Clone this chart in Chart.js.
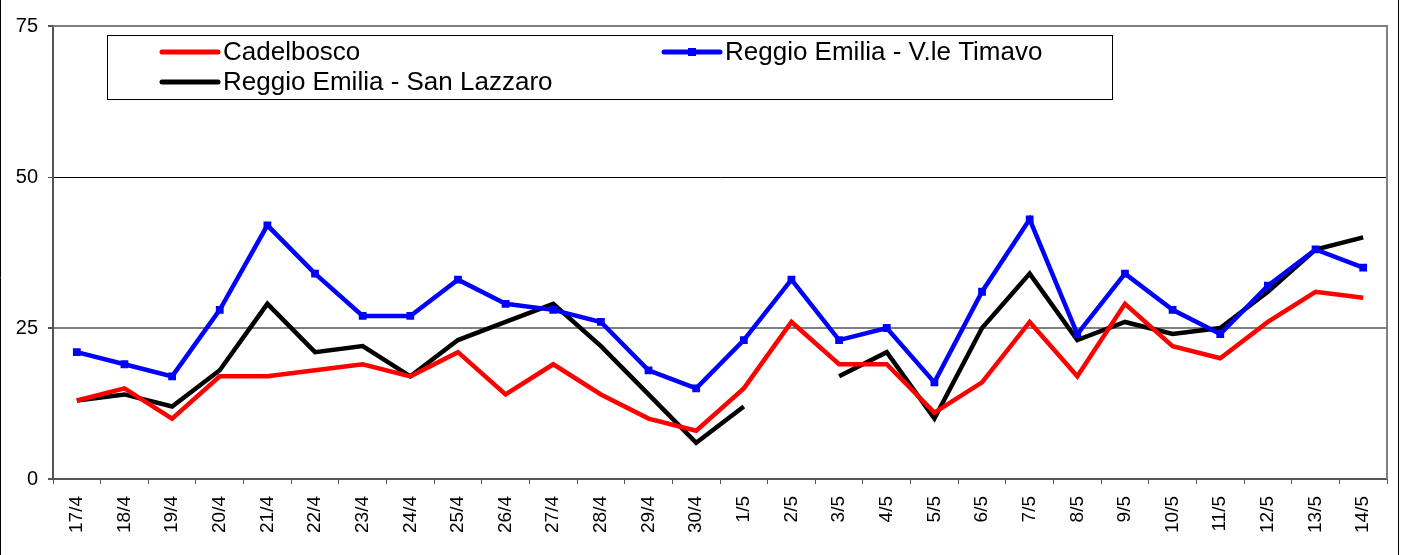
<!DOCTYPE html>
<html>
<head>
<meta charset="utf-8">
<script src="https://cdn.jsdelivr.net/npm/chart.js@4"></script>
<style>
    body { margin: 0; background: #fff; }
    #wrap { width: 1404px; height: 555px; position: relative; }
</style>
</head>
<body>
<div id="wrap"><canvas id="chart" width="1404" height="555"></canvas></div>
<script>
// dates along the x axis
const days = ["17/4", "18/4", "19/4", "20/4", "21/4", "22/4", "23/4", "24/4", "25/4", "26/4",
    "27/4", "28/4", "29/4", "30/4", "1/5", "2/5", "3/5", "4/5", "5/5", "6/5",
    "7/5", "8/5", "9/5", "10/5", "11/5", "12/5", "13/5", "14/5"];

const cadelbosco = [13, 15, 10, 17, 17, 18, 19, 17, 21, 14, 19, 14, 10, 8, 15, 26, 19, 19, 11, 16, 26, 17, 29, 22, 20, 26, 31, 30];
const timavo = [21, 19, 17, 28, 42, 34, 27, 27, 33, 29, 28, 26, 18, 15, 23, 33, 23, 25, 16, 31, 43, 24, 34, 28, 24, 32, 38, 35];
const sanLazzaro = [13, 14, 12, 18, 29, 21, 22, 17, 23, 26, 29, 22, 14, 6, 12, null, 17, 21, 10, 25, 34, 23, 26, 24, 25, 31, 38, 40];

const yTicks = [0, 25, 50, 75];

const FONT = "'Liberation Sans', Arial, sans-serif";

// boxed two-column legend + frame, drawn by hand
const boxLegend = {
    id: "boxLegend",
    afterDraw(chart) {
        const ctx = chart.ctx;
        const area = chart.chartArea;
        ctx.save();

        // plot border top/right (gray)
        ctx.strokeStyle = "#808080";
        ctx.lineWidth = 2;
        ctx.beginPath();
        ctx.moveTo(area.left, area.top);
        ctx.lineTo(area.right, area.top);
        ctx.lineTo(area.right, area.bottom);
        ctx.stroke();

        // outer frame
        ctx.strokeStyle = "#000";
        ctx.lineWidth = 1;
        ctx.beginPath();
        ctx.moveTo(0.5, 0);
        ctx.lineTo(0.5, 555);
        ctx.moveTo(1398.5, 0);
        ctx.lineTo(1398.5, 555);
        ctx.stroke();

        // legend box
        ctx.fillStyle = "#fff";
        ctx.fillRect(107, 35, 1005, 64);
        ctx.strokeRect(107.5, 35.5, 1005, 64);

        const slots = [
            { x: 162, y: 52 },
            { x: 664, y: 52 },
            { x: 162, y: 82 }
        ];
        ctx.font = "26px " + FONT;
        ctx.textBaseline = "middle";
        chart.data.datasets.forEach((ds, i) => {
            const s = slots[i];
            ctx.strokeStyle = ds.borderColor;
            ctx.lineWidth = 5;
            ctx.lineCap = "round";
            ctx.beginPath();
            ctx.moveTo(s.x, s.y);
            ctx.lineTo(s.x + 56, s.y);
            ctx.stroke();
            if (ds.pointRadius > 0) {
                ctx.fillStyle = ds.borderColor;
                ctx.fillRect(s.x + 28 - 4, s.y - 4, 8, 8);
            }
            ctx.fillStyle = "#000";
            ctx.fillText(ds.label, s.x + 61, s.y + 1);
        });
        ctx.restore();
    }
};

new Chart(document.getElementById("chart"), {
    type: "line",
    data: {
        labels: days,
        datasets: [
            {
                label: "Cadelbosco",
                data: cadelbosco,
                borderColor: "#ff0000",
                borderWidth: 4.5,
                pointRadius: 0,
                tension: 0
            },
            {
                label: "Reggio Emilia - V.le Timavo",
                data: timavo,
                borderColor: "#0000ff",
                backgroundColor: "#0000ff",
                borderWidth: 4.5,
                pointStyle: "rect",
                pointRadius: 5.5,
                pointBorderWidth: 0,
                tension: 0
            },
            {
                label: "Reggio Emilia - San Lazzaro",
                data: sanLazzaro,
                borderColor: "#000000",
                borderWidth: 4.5,
                pointRadius: 0,
                tension: 0,
                spanGaps: false
            }
        ]
    },
    options: {
        responsive: false,
        animation: false,
        layout: { padding: { left: 0, right: 17, top: 26, bottom: 0 } },
        plugins: {
            legend: { display: false },
            tooltip: { enabled: false }
        },
        scales: {
            x: {
                offset: true,
                grid: {
                    offset: true,
                    drawOnChartArea: false,
                    tickLength: 5,
                    tickColor: "#555",
                    tickWidth: 1
                },
                border: { color: "#555", width: 2 },
                ticks: {
                    minRotation: 90,
                    maxRotation: 90,
                    autoSkip: false,
                    padding: 12,
                    color: "#000",
                    font: { family: FONT, size: 19 }
                },
                afterFit(scale) { scale.height = 76; }
            },
            y: {
                min: 0,
                max: 75,
                afterBuildTicks(scale) { scale.ticks = yTicks.map(v => ({ value: v })); },
                grid: {
                    color: c => (c.tick && c.tick.value === 50) ? "#000" : "#808080",
                    lineWidth: c => (c.tick && c.tick.value === 50) ? 1 : 2,
                    tickLength: 5,
                    tickColor: "#555"
                },
                border: { color: "#555", width: 2 },
                ticks: {
                    padding: 10,
                    color: "#000",
                    font: { family: FONT, size: 20 }
                },
                afterFit(scale) { scale.width = 53; }
            }
        }
    },
    plugins: [boxLegend]
});
</script>
</body>
</html>
